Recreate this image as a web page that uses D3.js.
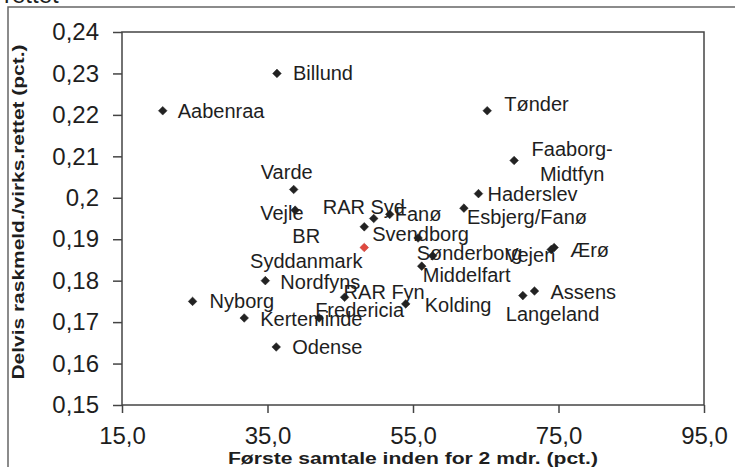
<!DOCTYPE html>
<html>
<head>
<meta charset="utf-8">
<script src="https://cdn.jsdelivr.net/npm/d3@7"></script>
<style>
  body { margin: 0; background: #fff; }
  text { font-family: "Liberation Sans", Arial, sans-serif; fill: #1e1e1e; }
</style>
</head>
<body>
<div id="chart"></div>
<script>
var svgWidth = 735;
var svgHeight = 467;

// data
var names = ["Billund", "Aabenraa", "Tønder", "Faaborg-Midtfyn", "Haderslev", "Esbjerg/Fanø",
  "Varde", "Vejle", "RAR Syd", "Fanø", "Svendborg", "BR Syddanmark", "Sønderborg",
  "Middelfart", "Vejen", "Ærø", "Nordfyns", "Nyborg", "Kerteminde", "Odense",
  "Fredericia", "RAR Fyn", "Kolding", "Assens", "Langeland", ""];
var firstTalk = [36.3, 20.6, 65.2, 68.9, 64.0, 62.0,
  38.6, 38.8, 49.6, 51.8, 48.3, 48.3, 57.7,
  56.2, 74.0, 74.4, 34.7, 24.7, 31.8, 36.2,
  42.1, 45.6, 54.0, 71.7, 70.1, 55.7];
var partialSick = [0.230, 0.221, 0.221, 0.209, 0.201, 0.1975,
  0.202, 0.197, 0.195, 0.196, 0.193, 0.188, 0.186,
  0.1835, 0.1875, 0.188, 0.180, 0.175, 0.171, 0.164,
  0.171, 0.176, 0.1744, 0.1775, 0.1764, 0.1903];
var highlight = ["BR Syddanmark"];

var xTicks = [15, 35, 55, 75, 95];
var yTicks = [0.15, 0.16, 0.17, 0.18, 0.19, 0.2, 0.21, 0.22, 0.23, 0.24];

// label placement relative to marker: dx, dy, anchor, lines
var labelPos = {
  "Billund": [16, 0, "start"],
  "Aabenraa": [15, 0, "start"],
  "Tønder": [17, -7, "start"],
  "Faaborg-Midtfyn": [58, 1, "middle", ["Faaborg-", "Midtfyn"]],
  "Haderslev": [9, 0, "start"],
  "Esbjerg/Fanø": [3, 9, "start"],
  "Varde": [-7, -17, "middle"],
  "Vejle": [-35, 3, "start"],
  "RAR Syd": [-51, -12, "start"],
  "Fanø": [5, 0, "start"],
  "Svendborg": [8, 7, "start"],
  "BR Syddanmark": [-58, 1, "middle", ["BR", "Syddanmark"]],
  "Sønderborg": [-16, -3, "start"],
  "Middelfart": [1, 9, "start"],
  "Vejen": [-46, 5, "start"],
  "Ærø": [16, 2, "start"],
  "Nordfyns": [15, 1, "start"],
  "Nyborg": [17, 0, "start"],
  "Kerteminde": [16, 1, "start"],
  "Odense": [16, 0, "start"],
  "Fredericia": [-4, -8, "start"],
  "RAR Fyn": [-1, -5, "start"],
  "Kolding": [19, 1, "start"],
  "Assens": [16, 1, "start"],
  "Langeland": [-17, 18, "start"]
};

var data = names.map(function(n, i) {
  return { name: n, x: firstTalk[i], y: partialSick[i] };
});

var svg = d3.select("#chart")
  .append("svg")
  .attr("width", svgWidth)
  .attr("height", svgHeight);

// outer chart border + cut off text from the page above
svg.append("path")
  .attr("d", "M8,467 L8,7 L735,7")
  .attr("fill", "none")
  .attr("stroke", "#666")
  .attr("stroke-width", 1.5);

svg.append("text")
  .attr("x", 4)
  .attr("y", 3)
  .attr("font-size", "24px")
  .text("rettet");

var xScale = d3.scaleLinear().domain([15, 95]).range([122, 704]);
var yScale = d3.scaleLinear().domain([0.15, 0.24]).range([405, 32]);

var comma = function(f) { return function(d) { return d3.format(f)(d).replace(".", ","); }; };

// plot frame
svg.append("rect")
  .attr("x", xScale(15))
  .attr("y", yScale(0.24))
  .attr("width", xScale(95) - xScale(15))
  .attr("height", yScale(0.15) - yScale(0.24))
  .attr("fill", "none")
  .attr("stroke", "#444")
  .attr("stroke-width", 1.5);

var xAxis = svg.append("g")
  .attr("transform", `translate(0, ${yScale(0.15)})`)
  .call(d3.axisBottom(xScale).tickValues(xTicks).tickFormat(comma(".1f")).tickSize(8).tickPadding(14));

var yAxis = svg.append("g")
  .attr("transform", `translate(${xScale(15)}, 0)`)
  .call(d3.axisLeft(yScale).tickValues(yTicks).tickFormat(comma(".2~f")).tickSize(9).tickPadding(14));

[xAxis, yAxis].forEach(function(ax) {
  ax.select(".domain").remove();
  ax.selectAll("line").attr("stroke", "#444").attr("stroke-width", 1.5);
  ax.selectAll("text")
    .attr("font-family", "Liberation Sans, Arial, sans-serif")
    .attr("font-size", "24px")
    .attr("fill", "#1e1e1e");
});

// markers
svg.selectAll(".pt")
  .data(data)
  .enter()
  .append("path")
  .attr("class", "pt")
  .attr("d", d3.symbol().type(d3.symbolDiamond2).size(48))
  .attr("transform", d => `translate(${xScale(d.x)}, ${yScale(d.y)})`)
  .attr("fill", d => highlight.indexOf(d.name) >= 0 ? "#e0493e" : "#222")
  .attr("stroke", d => highlight.indexOf(d.name) >= 0 ? "#b33" : "#222")
  .attr("stroke-width", 0.5);

// labels
var labels = svg.selectAll(".lbl")
  .data(data.filter(d => labelPos[d.name]))
  .enter()
  .append("text")
  .attr("class", "lbl")
  .attr("font-size", "20px")
  .attr("text-anchor", d => labelPos[d.name][2])
  .attr("transform", d => `translate(${xScale(d.x) + labelPos[d.name][0]}, ${yScale(d.y) + labelPos[d.name][1]})`);

labels.each(function(d) {
  var lines = labelPos[d.name][3] || [d.name];
  var el = d3.select(this);
  lines.forEach(function(l, i) {
    el.append("tspan")
      .attr("x", 0)
      .attr("y", (i - (lines.length - 1) / 2) * 25 + 7)
      .text(l);
  });
});

// axis titles
svg.append("text")
  .attr("x", xScale(55))
  .attr("y", 464)
  .attr("text-anchor", "middle")
  .attr("font-size", "16px")
  .attr("font-weight", "bold")
  .attr("textLength", 370)
  .attr("lengthAdjust", "spacingAndGlyphs")
  .text("Første samtale inden for 2 mdr. (pct.)");

svg.append("text")
  .attr("transform", "translate(24, 212) rotate(-90)")
  .attr("text-anchor", "middle")
  .attr("font-size", "16px")
  .attr("font-weight", "bold")
  .attr("textLength", 335)
  .attr("lengthAdjust", "spacingAndGlyphs")
  .text("Delvis raskmeld./virks.rettet (pct.)");
</script>
</body>
</html>
